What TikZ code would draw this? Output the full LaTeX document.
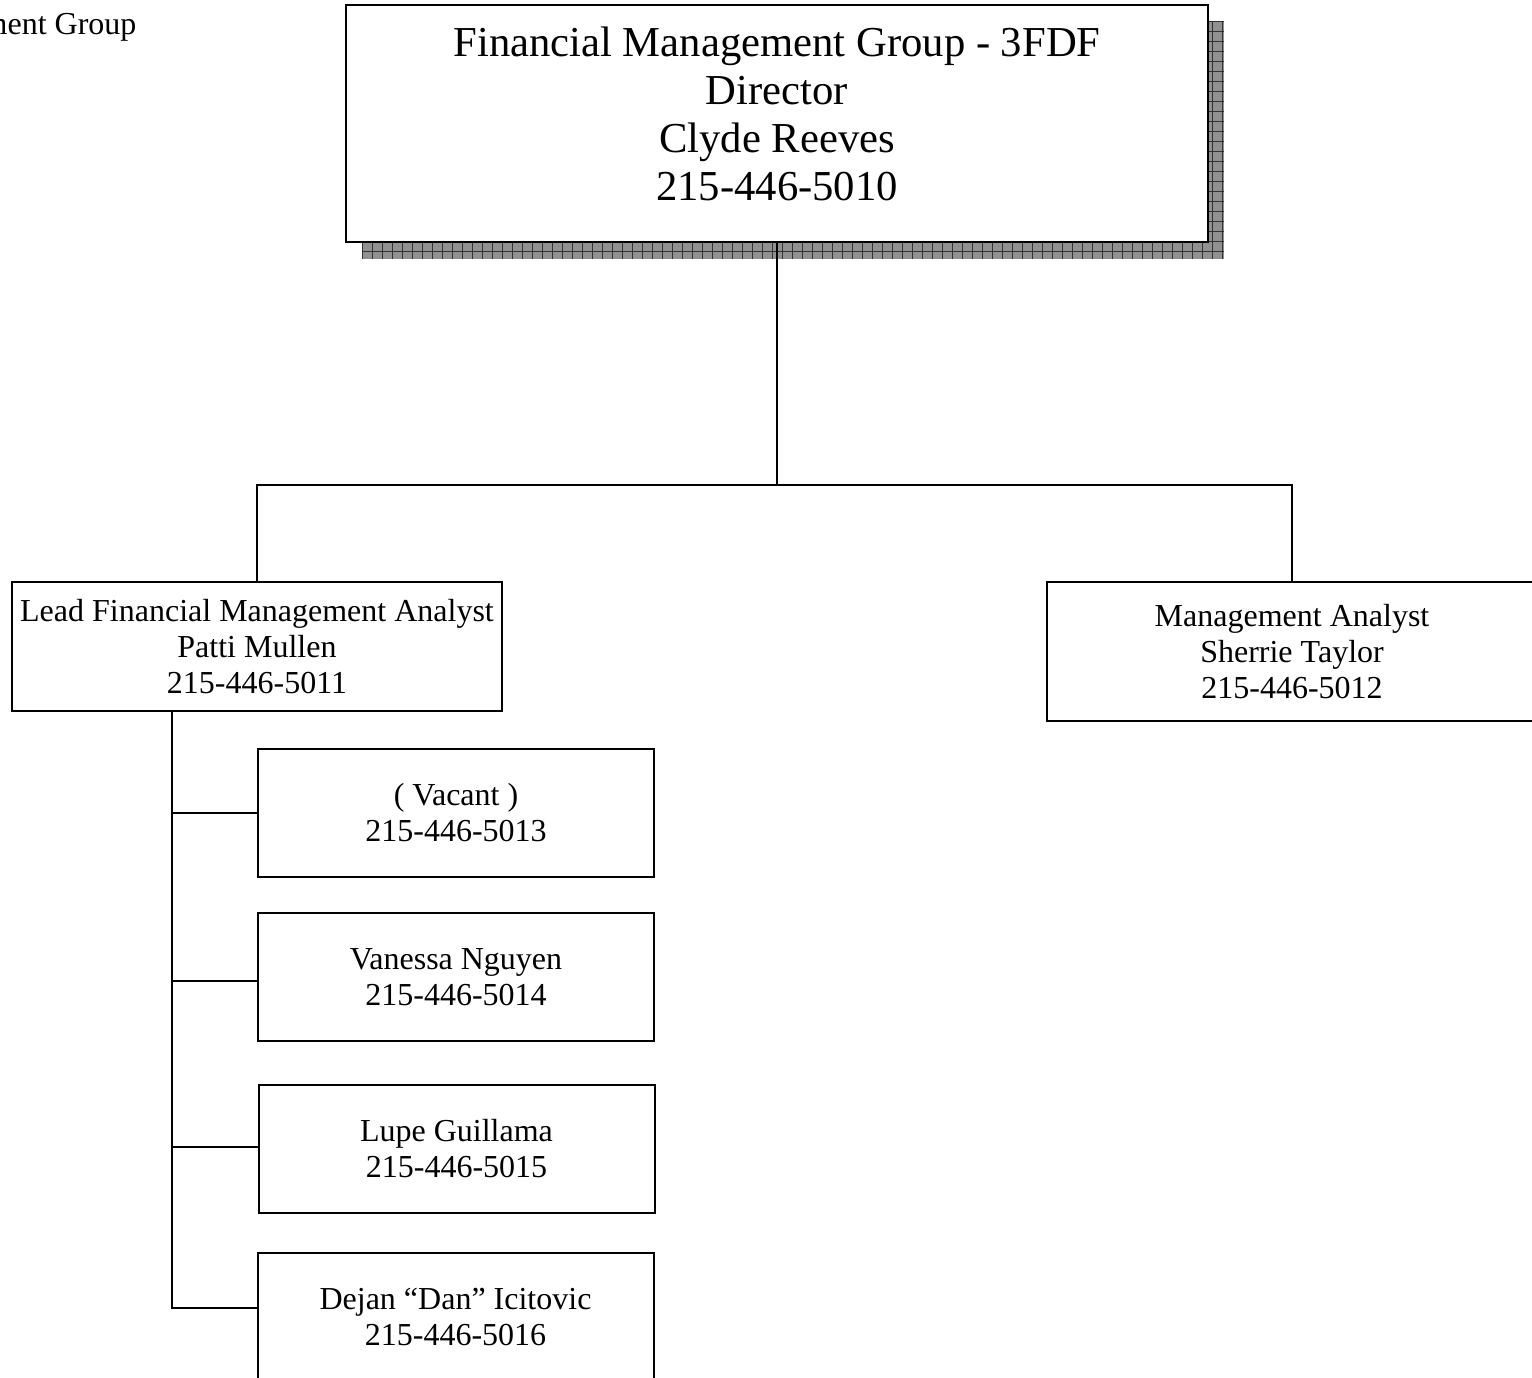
\documentclass[tikz,border=0pt]{standalone}
\usepackage{fontspec}
\setmainfont{Liberation Serif}
\begin{document}
\begin{tikzpicture}[x=0.375pt,y=-0.375pt,
  conn/.style={line width=0.75pt},
  gridline/.style={line width=0.35pt,draw=black!80},
  box/.style={draw,line width=0.75pt,fill=white,inner sep=0pt,align=center,
    font=\fontsize{12}{13.5}\selectfont},
  midbox/.style={box,minimum width=183.75pt},
  subbox/.style={box,minimum width=148.5pt,minimum height=48pt}]
\clip (0,0) rectangle (1532,1377);
% header fragment
\node[anchor=base east,inner sep=0pt,font=\fontsize{12}{14}\selectfont] (hdr) at (137,34) {ment Group};
% top box shadow
\begin{scope}
  \clip (362,21) rectangle (1224,259);
  \fill[fill={rgb,255:red,145;green,145;blue,145}] (362,21) rectangle (1224,259);
  \foreach \gx in {362,372,...,1224} {\draw[gridline] (\gx,21) -- (\gx,259);}
  \foreach \gy in {21,31,...,259} {\draw[gridline] (362,\gy) -- (1224,\gy);}
\end{scope}
\node[draw,line width=1.1pt,fill=white,inner sep=0pt,minimum width=323.25pt,minimum height=88.875pt] (top) at (777,123.5) {};
\node[align=center,inner sep=0pt,font=\fontsize{16}{18}\selectfont] (toptext) at (777,114)
  {Financial Management Group - 3FDF\\Director\\Clyde Reeves\\215-446-5010};
% second level
\node[midbox,minimum height=48.375pt] (lead) at (257,646.5)
  {Lead Financial Management Analyst\\Patti Mullen\\215-446-5011};
\node[midbox,minimum height=52.125pt] (right) at (1292,651.5)
  {Management Analyst\\Sherrie Taylor\\215-446-5012};
% third level
\node[subbox] (b1) at (456,813) {( Vacant )\\215-446-5013};
\node[subbox] (b2) at (456,977) {Vanessa Nguyen\\215-446-5014};
\node[subbox] (b3) at (456.5,1149) {Lupe Guillama\\215-446-5015};
\node[subbox] (b4) at (455.5,1317) {Dejan “Dan” Icitovic\\215-446-5016};
% connectors
\coordinate (j) at (777,485);
\coordinate (sp) at (172,711);
\draw[conn] (top.south) -- (j);
\draw[conn] (lead.north) |- (j) -| (right.north);
\draw[conn] (sp) |- ([yshift=3.4pt]b4.west);
\draw[conn] (sp |- b1.west) -- (b1.west);
\draw[conn] ([yshift=-1.5pt]b2.west -| sp) -- ([yshift=-1.5pt]b2.west);
\draw[conn] ([yshift=0.75pt]b3.west -| sp) -- ([yshift=0.75pt]b3.west);
\end{tikzpicture}
\end{document}
